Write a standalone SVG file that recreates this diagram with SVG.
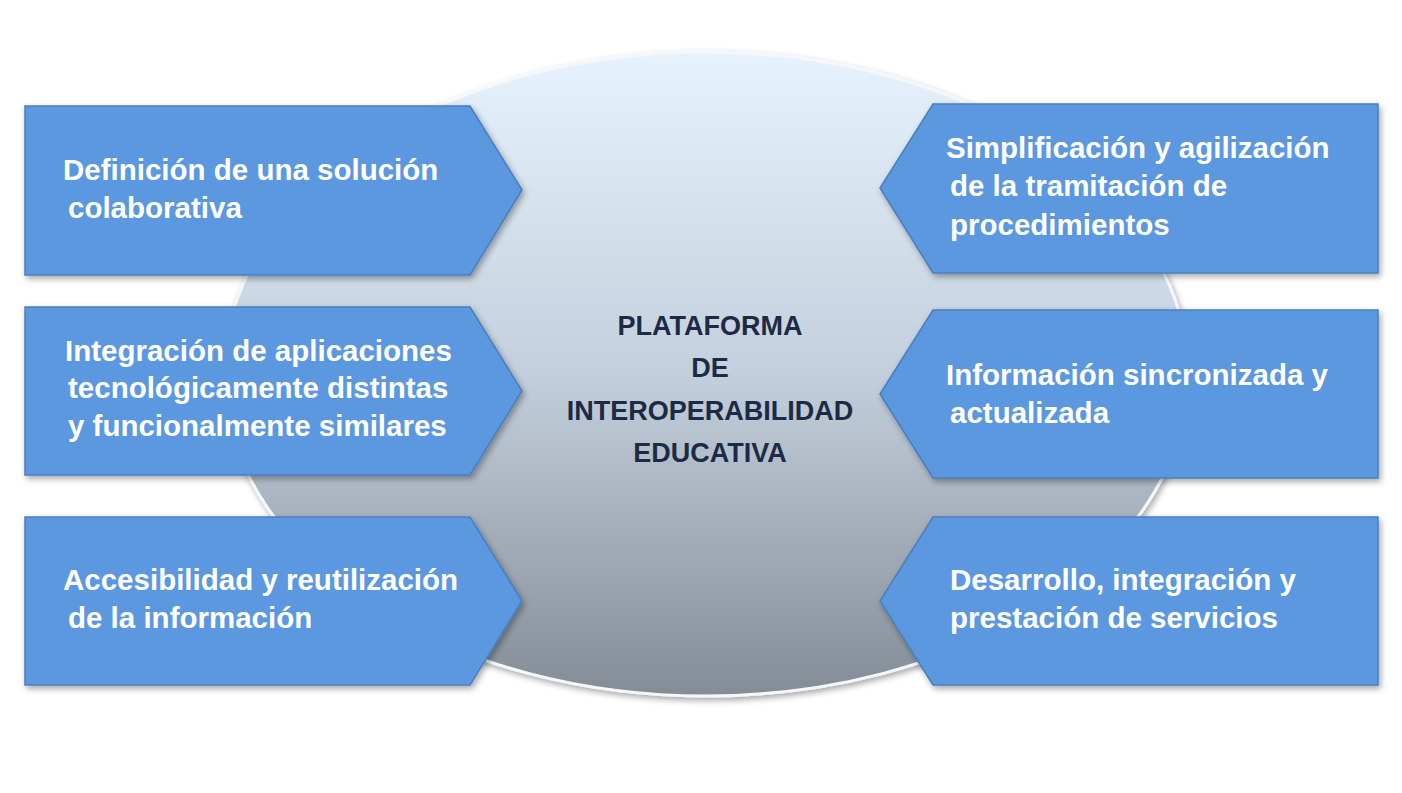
<svg xmlns="http://www.w3.org/2000/svg" width="1402" height="793" viewBox="0 0 1402 793">
<defs>
<linearGradient id="g" x1="0" y1="0" x2="0" y2="1">
<stop offset="0" stop-color="#e6f2fc"/><stop offset="0.5" stop-color="#c3cfdc"/><stop offset="1" stop-color="#848c96"/>
</linearGradient>
<filter id="sh" x="-10%" y="-10%" width="120%" height="130%"><feDropShadow dx="2" dy="3" stdDeviation="3" flood-color="#000" flood-opacity="0.35"/></filter>
</defs>
<style>
.b{fill:#5b98df;stroke:#4a7fbd;stroke-width:1.5;filter:url(#sh)}
.t{font-family:"Liberation Sans",Arial,sans-serif;font-weight:bold;font-size:29.5px;fill:#fff}
.c{font-family:"Liberation Sans",Arial,sans-serif;font-weight:bold;font-size:27px;fill:#1d2a45;text-anchor:middle}
</style>
<rect width="1402" height="793" fill="#fff"/>
<g id="center">
<ellipse cx="706" cy="374" rx="482" ry="322" fill="url(#g)" stroke="#f4f8fc" stroke-width="3" filter="url(#sh)"/>
<text class="c" x="710" y="335">PLATAFORMA</text>
<text class="c" x="710" y="377">DE</text>
<text class="c" x="710" y="420">INTEROPERABILIDAD</text>
<text class="c" x="710" y="462">EDUCATIVA</text>
</g>
<g id="connectors"></g>
<g id="l1"><path class="b" d="M25 106H470L522 190L470 275H25Z"/>
<text class="t" x="63" y="180">Definición de una solución</text><text class="t" x="68" y="218">colaborativa</text></g>
<g id="l2"><path class="b" d="M25 307H470L522 391L470 475H25Z"/>
<text class="t" x="65" y="361">Integración de aplicaciones</text><text class="t" x="68" y="398">tecnológicamente distintas</text><text class="t" x="68" y="436">y funcionalmente similares</text></g>
<g id="l3"><path class="b" d="M25 517H470L522 601L470 685H25Z"/>
<text class="t" x="63" y="590">Accesibilidad y reutilización</text><text class="t" x="68" y="628">de la información</text></g>
<g id="r1"><path class="b" d="M1378 104H933L880 188L933 273H1378Z"/>
<text class="t" x="946" y="158">Simplificación y agilización</text><text class="t" x="950" y="196">de la tramitación de</text><text class="t" x="950" y="235">procedimientos</text></g>
<g id="r2"><path class="b" d="M1378 310H933L880 394L933 478H1378Z"/>
<text class="t" x="946" y="385">Información sincronizada y</text><text class="t" x="950" y="423">actualizada</text></g>
<g id="r3"><path class="b" d="M1378 517H933L880 601L933 685H1378Z"/>
<text class="t" x="950" y="590">Desarrollo, integración y</text><text class="t" x="950" y="628">prestación de servicios</text></g>
</svg>
